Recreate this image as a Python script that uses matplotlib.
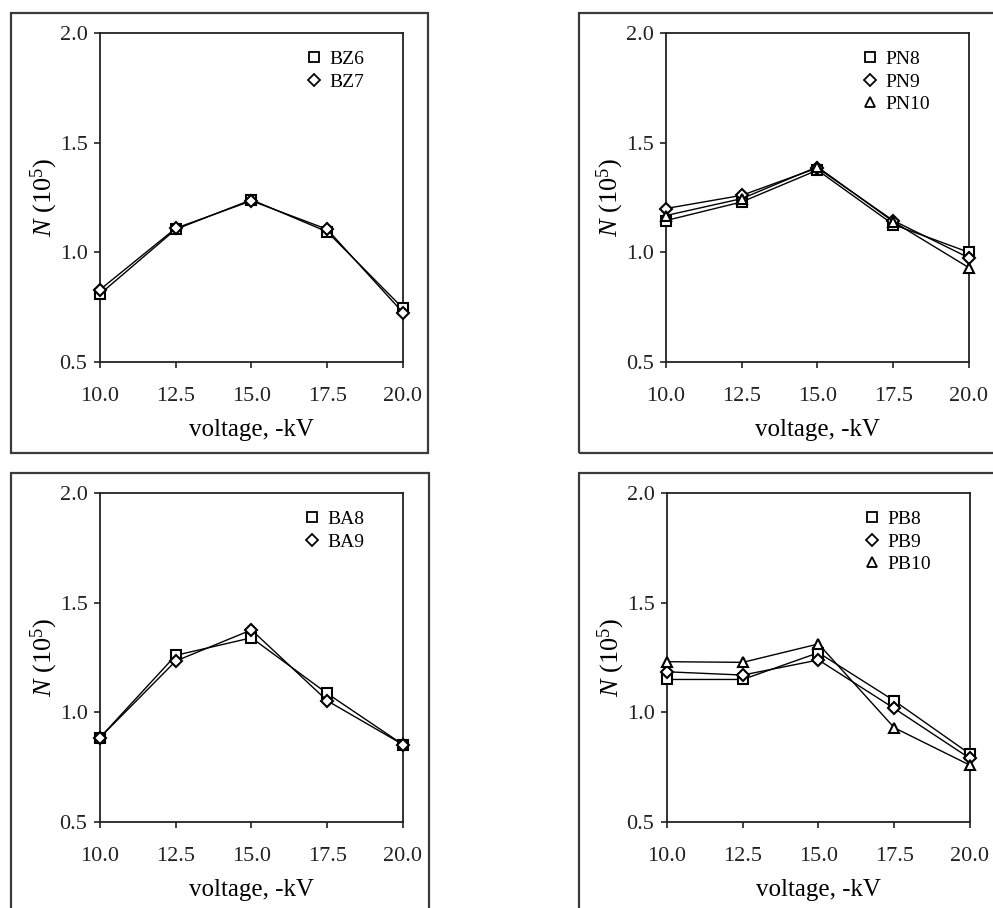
import numpy as np
import matplotlib
matplotlib.use('Agg')
import matplotlib.pyplot as plt
from matplotlib.patches import Rectangle
from matplotlib.lines import Line2D

plt.rcParams['font.family'] = 'Liberation Serif'
plt.rcParams['mathtext.fontset'] = 'custom'
plt.rcParams['mathtext.rm'] = 'Liberation Serif'
plt.rcParams['mathtext.it'] = 'Liberation Serif:italic'

voltage = [10.0, 12.5, 15.0, 17.5, 20.0]

# top left
bz6 = [0.81, 1.105, 1.24, 1.094, 0.745]
bz7 = [0.83, 1.11, 1.235, 1.105, 0.725]

# top right
pn8 = [1.145, 1.23, 1.375, 1.127, 1.0]
pn9 = [1.20, 1.26, 1.385, 1.145, 0.975]
pn10 = [1.168, 1.245, 1.39, 1.14, 0.93]

# bottom left
ba8 = [0.885, 1.26, 1.34, 1.086, 0.853]
ba9 = [0.885, 1.234, 1.376, 1.053, 0.853]

# bottom right
pb8 = [1.15, 1.15, 1.272, 1.053, 0.81]
pb9 = [1.185, 1.17, 1.239, 1.018, 0.79]
pb10 = [1.231, 1.228, 1.312, 0.93, 0.759]

panels = [
    ([0.1007, 0.6013, 0.3051, 0.3623], [(bz6, 'BZ6', 's'), (bz7, 'BZ7', 'D')]),
    ([0.6707, 0.6013, 0.3051, 0.3623], [(pn8, 'PN8', 's'), (pn9, 'PN9', 'D'), (pn10, 'PN10', '^')]),
    ([0.1007, 0.0947, 0.3051, 0.3623], [(ba8, 'BA8', 's'), (ba9, 'BA9', 'D')]),
    ([0.6717, 0.0947, 0.3051, 0.3623], [(pb8, 'PB8', 's'), (pb9, 'PB9', 'D'), (pb10, 'PB10', '^')]),
]

# outer boxes around each panel (pixels: x0, y0 top, x1, y1 bottom)
boxes = [(11, 13, 428, 453), (579, 13, 1010, 453), (11, 473, 429, 920), (579, 473, 1010, 920)]

W, H = 993, 908
fig = plt.figure(figsize=(W / 100, H / 100), dpi=100)

for x0, y0, x1, y1 in boxes:
    fig.patches.append(Rectangle((x0 / W, 1 - y1 / H), (x1 - x0) / W, (y1 - y0) / H,
                                 transform=fig.transFigure, fill=False,
                                 edgecolor='#3a3a3a', linewidth=1.6, clip_on=False))

for rect, series in panels:
    ax = fig.add_axes(rect)
    handles = []
    for vals, name, mk in series:
        ms = 6 if mk == 'D' else 7
        ax.plot(voltage, vals, color='black', linewidth=1.0, marker=mk,
                markersize=ms, markerfacecolor='white', markeredgecolor='black',
                markeredgewidth=1.5, clip_on=False, zorder=3)
        handles.append(Line2D([], [], linestyle='none', marker=mk, markersize=ms,
                              markerfacecolor='white', markeredgecolor='black',
                              markeredgewidth=1.3, label=name))
    ax.set_xlim(10, 20)
    ax.set_ylim(0.5, 2.0)
    ax.set_xticks(voltage)
    ax.set_xticklabels(['10.0', '12.5', '15.0', '17.5', '20.0'])
    ax.set_yticks([0.5, 1.0, 1.5, 2.0])
    ax.set_yticklabels(['0.5', '1.0', '1.5', '2.0'])
    ax.tick_params(direction='out', length=4, width=1.2, labelsize=16, pad=5, colors='#222222')
    ax.tick_params(axis='x', pad=14)
    for sp in ax.spines.values():
        sp.set_linewidth(1.3)
        sp.set_color('#222222')
    ax.set_xlabel('voltage, -kV', fontsize=18, labelpad=9)
    ax.set_ylabel(r'$\mathit{N}$ (10$^5$)', fontsize=19, labelpad=0)
    ax.legend(handles=handles, loc='upper right', frameon=False, fontsize=14,
              handlelength=0.8, handletextpad=0.4, labelspacing=0.25,
              borderaxespad=0.5, bbox_to_anchor=(0.93, 1.0))

fig.savefig('out.png', dpi=100)
